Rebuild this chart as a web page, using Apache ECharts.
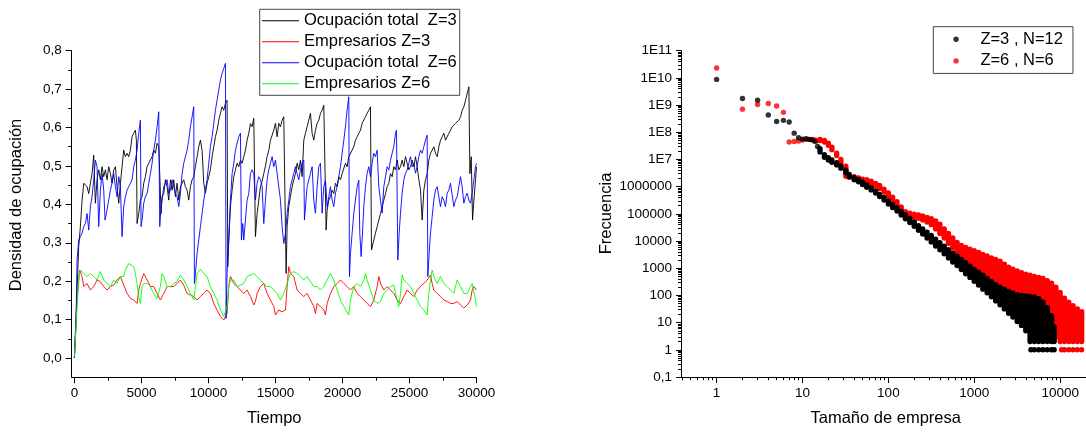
<!DOCTYPE html>
<html><head><meta charset="utf-8">
<script src="https://cdn.jsdelivr.net/npm/echarts@6/dist/echarts.min.js"></script>
<style>html,body{margin:0;padding:0;background:#fff}#c{width:1086px;height:432px}</style>
</head><body><div id="c"></div>
<script>
// ---------------- DATA ----------------
const leftNames = ['Ocupación total  Z=3', 'Empresarios Z=3', 'Ocupación total  Z=6', 'Empresarios Z=6'];
const rightNames = ['Z=3 , N=12', 'Z=6 , N=6'];
const timeTicks = [0, 5000, 10000, 15000, 20000, 25000, 30000];
const timeMinorTicks = [2500, 7500, 12500, 17500, 22500, 27500];
const densityTicks = [0, 0.1, 0.2, 0.3, 0.4, 0.5, 0.6, 0.7, 0.8];
const densityMinorTicks = [0.05, 0.15, 0.25, 0.35, 0.45, 0.55, 0.65, 0.75];
const sizeTicks = [1, 10, 100, 1000, 10000];
const freqTicks = [0.1, 1, 10, 100, 1000, 10000, 100000, 1000000, 1e7, 1e8, 1e9, 1e10, 1e11];

// [tiempo, densidad]
const ocupacionZ3 = [[0,0],[75,0.003],[199,0.177],[323,0.29],[448,0.342],[572,0.41],[697,0.455],[821,0.459],[945,0.446],[1070,0.428],[1194,0.455],[1318,0.48],[1443,0.528],[1567,0.403],[1692,0.464],[1816,0.49],[1940,0.464],[2065,0.498],[2189,0.472],[2314,0.49],[2438,0.464],[2563,0.498],[2687,0.48],[2811,0.455],[2935,0.49],[3060,0.498],[3184,0.446],[3309,0.403],[3433,0.455],[3557,0.498],[3682,0.541],[3806,0.524],[3930,0.533],[4055,0.524],[4179,0.541],[4304,0.576],[4428,0.585],[4552,0.593],[4627,0.567],[4677,0.35],[4801,0.376],[4925,0.411],[5050,0.42],[5174,0.455],[5299,0.472],[5423,0.498],[5548,0.507],[5672,0.507],[5796,0.524],[5920,0.541],[6045,0.533],[6169,0.559],[6294,0.55],[6368,0.48],[6467,0.376],[6542,0.42],[6667,0.428],[6791,0.464],[6916,0.446],[7040,0.411],[7164,0.464],[7289,0.437],[7413,0.464],[7538,0.42],[7662,0.455],[7787,0.411],[7911,0.446],[8035,0.455],[8159,0.464],[8284,0.446],[8408,0.437],[8533,0.411],[8657,0.446],[8781,0.464],[8906,0.472],[9030,0.498],[9154,0.524],[9279,0.55],[9403,0.567],[9527,0.541],[9652,0.455],[9776,0.429],[9900,0.455],[10025,0.472],[10149,0.49],[10274,0.524],[10398,0.55],[10523,0.576],[10647,0.593],[10771,0.619],[10896,0.637],[11020,0.654],[11144,0.645],[11269,0.663],[11393,0.671],[11443,0.238],[11518,0.307],[11642,0.394],[11767,0.437],[11891,0.472],[12015,0.49],[12140,0.507],[12264,0.498],[12388,0.515],[12513,0.507],[12637,0.524],[12762,0.541],[12886,0.567],[13010,0.585],[13135,0.61],[13259,0.602],[13383,0.624],[13458,0.619],[13508,0.316],[13632,0.376],[13756,0.411],[13881,0.446],[14005,0.46],[14130,0.48],[14254,0.5],[14378,0.524],[14503,0.54],[14627,0.567],[14752,0.58],[14876,0.593],[15000,0.611],[15125,0.576],[15249,0.611],[15374,0.602],[15498,0.619],[15622,0.628],[15747,0.632],[15797,0.22],[15871,0.342],[15995,0.394],[16120,0.42],[16244,0.446],[16369,0.464],[16493,0.48],[16617,0.507],[16742,0.49],[16866,0.515],[16991,0.472],[17115,0.567],[17240,0.585],[17364,0.602],[17488,0.619],[17613,0.637],[17737,0.585],[17861,0.567],[17986,0.593],[18110,0.611],[18235,0.619],[18359,0.637],[18483,0.645],[18607,0.658],[18707,0.663],[18782,0.333],[18856,0.385],[18981,0.411],[19105,0.42],[19230,0.437],[19354,0.428],[19478,0.455],[19603,0.446],[19727,0.472],[19851,0.464],[19976,0.48],[20100,0.48],[20225,0.507],[20349,0.498],[20473,0.524],[20598,0.524],[20722,0.541],[20847,0.55],[20971,0.567],[21095,0.576],[21220,0.585],[21344,0.593],[21468,0.611],[21593,0.611],[21717,0.628],[21842,0.637],[21966,0.645],[22090,0.654],[22165,0.281],[22339,0.307],[22463,0.325],[22588,0.342],[22712,0.359],[22837,0.376],[22961,0.394],[23086,0.411],[23210,0.428],[23334,0.446],[23459,0.455],[23583,0.48],[23708,0.472],[23832,0.498],[23956,0.49],[24081,0.515],[24205,0.49],[24330,0.498],[24454,0.515],[24578,0.498],[24703,0.524],[24827,0.507],[24952,0.49],[25076,0.498],[25201,0.515],[25325,0.498],[25449,0.524],[25574,0.498],[25698,0.464],[25823,0.437],[25947,0.359],[26072,0.437],[26196,0.464],[26321,0.48],[26445,0.515],[26570,0.533],[26694,0.541],[26818,0.55],[26943,0.533],[27067,0.524],[27192,0.55],[27316,0.567],[27440,0.576],[27565,0.585],[27689,0.567],[27814,0.567],[27938,0.585],[28063,0.593],[28187,0.602],[28312,0.602],[28436,0.611],[28560,0.611],[28685,0.619],[28809,0.628],[28934,0.645],[29058,0.654],[29183,0.671],[29307,0.689],[29432,0.706],[29506,0.48],[29606,0.524],[29706,0.359],[29806,0.411],[29930,0.464],[30000,0.498]];

const empresariosZ3 = [[0,0],[199,0.15],[398,0.229],[572,0.212],[697,0.186],[945,0.194],[1194,0.177],[1443,0.186],[1692,0.203],[1940,0.199],[2189,0.186],[2438,0.177],[2687,0.186],[2935,0.19],[3184,0.203],[3433,0.212],[3682,0.19],[3930,0.168],[4179,0.155],[4428,0.151],[4677,0.142],[4801,0.177],[4925,0.194],[5174,0.22],[5423,0.203],[5672,0.186],[5920,0.186],[6169,0.168],[6418,0.151],[6667,0.168],[6916,0.186],[7164,0.186],[7413,0.186],[7662,0.194],[7911,0.203],[8159,0.19],[8408,0.168],[8657,0.164],[8906,0.16],[9154,0.151],[9403,0.16],[9652,0.168],[9900,0.177],[10149,0.168],[10398,0.142],[10647,0.125],[10896,0.108],[11144,0.099],[11269,0.095],[11393,0.116],[11518,0.186],[11642,0.212],[11891,0.194],[12140,0.186],[12388,0.177],[12637,0.168],[12886,0.177],[13135,0.16],[13383,0.138],[13508,0.147],[13632,0.168],[13881,0.186],[14130,0.194],[14378,0.168],[14627,0.151],[14876,0.134],[15000,0.112],[15249,0.125],[15498,0.12],[15747,0.125],[15871,0.186],[15995,0.238],[16120,0.22],[16368,0.212],[16617,0.177],[16866,0.168],[17115,0.16],[17363,0.168],[17612,0.151],[17861,0.134],[17985,0.116],[18110,0.142],[18359,0.134],[18607,0.125],[18732,0.112],[18856,0.142],[19105,0.168],[19353,0.186],[19602,0.194],[19851,0.203],[20100,0.194],[20348,0.186],[20597,0.177],[20846,0.186],[21095,0.168],[21344,0.16],[21592,0.151],[21841,0.142],[22090,0.134],[22214,0.13],[22338,0.151],[22587,0.186],[22712,0.212],[22836,0.194],[23085,0.177],[23334,0.186],[23583,0.177],[23831,0.168],[24080,0.151],[24329,0.142],[24578,0.16],[24826,0.177],[25075,0.168],[25324,0.16],[25572,0.177],[25821,0.186],[26070,0.194],[26318,0.203],[26567,0.216],[26692,0.194],[26816,0.177],[27065,0.168],[27314,0.16],[27562,0.151],[27811,0.147],[28060,0.142],[28309,0.142],[28558,0.147],[28806,0.138],[29055,0.13],[29304,0.138],[29553,0.151],[29677,0.177],[29802,0.186],[29926,0.19],[30000,0.177]];

const ocupacionZ6 = [[0,0],[124,0.09],[199,0.255],[323,0.307],[448,0.316],[572,0.325],[697,0.342],[821,0.35],[945,0.376],[1070,0.333],[1194,0.394],[1318,0.42],[1443,0.464],[1567,0.515],[1692,0.498],[1816,0.342],[1940,0.437],[2065,0.48],[2189,0.437],[2289,0.359],[2388,0.376],[2563,0.411],[2687,0.437],[2811,0.455],[2935,0.48],[3060,0.446],[3184,0.42],[3309,0.472],[3433,0.446],[3557,0.316],[3682,0.394],[3806,0.42],[3930,0.437],[4055,0.446],[4179,0.455],[4304,0.464],[4428,0.498],[4552,0.515],[4677,0.541],[4801,0.585],[4925,0.619],[4975,0.342],[5050,0.359],[5174,0.403],[5299,0.42],[5423,0.428],[5548,0.455],[5672,0.48],[5796,0.507],[5920,0.541],[6045,0.567],[6169,0.602],[6294,0.641],[6368,0.342],[6467,0.394],[6542,0.411],[6667,0.446],[6791,0.455],[6916,0.464],[7040,0.428],[7164,0.437],[7289,0.464],[7413,0.446],[7538,0.428],[7662,0.42],[7787,0.394],[7911,0.428],[8035,0.48],[8159,0.507],[8284,0.524],[8408,0.541],[8533,0.567],[8657,0.602],[8781,0.628],[8906,0.654],[8955,0.194],[9030,0.22],[9154,0.272],[9279,0.307],[9403,0.342],[9527,0.376],[9652,0.411],[9776,0.437],[9900,0.464],[10025,0.507],[10149,0.55],[10274,0.576],[10398,0.61],[10523,0.645],[10647,0.671],[10771,0.697],[10896,0.724],[11020,0.741],[11144,0.754],[11269,0.767],[11319,0.103],[11393,0.22],[11518,0.307],[11642,0.411],[11767,0.48],[11891,0.507],[12015,0.541],[12140,0.559],[12264,0.576],[12388,0.585],[12463,0.307],[12563,0.35],[12637,0.307],[12762,0.359],[12886,0.411],[13010,0.428],[13135,0.48],[13259,0.49],[13383,0.48],[13508,0.411],[13632,0.455],[13756,0.472],[13881,0.464],[14005,0.446],[14130,0.35],[14254,0.411],[14378,0.464],[14503,0.49],[14627,0.507],[14752,0.524],[14876,0.498],[15000,0.515],[15125,0.48],[15249,0.446],[15374,0.411],[15498,0.342],[15622,0.298],[15747,0.325],[15871,0.376],[15996,0.411],[16120,0.446],[16244,0.464],[16369,0.48],[16493,0.498],[16617,0.48],[16742,0.464],[16866,0.49],[16991,0.507],[17115,0.515],[17164,0.359],[17363,0.446],[17612,0.481],[17737,0.498],[17861,0.411],[17985,0.377],[18110,0.446],[18234,0.498],[18359,0.507],[18483,0.377],[18607,0.446],[18732,0.463],[18856,0.394],[18981,0.42],[19105,0.446],[19229,0.411],[19353,0.394],[19478,0.429],[19602,0.446],[19727,0.472],[19851,0.498],[19975,0.533],[20100,0.567],[20224,0.602],[20348,0.646],[20473,0.68],[20522,0.212],[20597,0.272],[20722,0.325],[20846,0.377],[20970,0.411],[21095,0.446],[21219,0.463],[21294,0.325],[21393,0.264],[21493,0.325],[21592,0.394],[21717,0.446],[21841,0.481],[21966,0.498],[22090,0.472],[22214,0.507],[22338,0.533],[22463,0.524],[22587,0.541],[22712,0.446],[22836,0.411],[22961,0.377],[23085,0.446],[23210,0.472],[23334,0.498],[23458,0.489],[23583,0.515],[23707,0.533],[23831,0.55],[23956,0.585],[24030,0.593],[24130,0.255],[24230,0.325],[24329,0.377],[24453,0.429],[24578,0.463],[24702,0.481],[24826,0.489],[24951,0.507],[25075,0.524],[25200,0.498],[25324,0.507],[25448,0.481],[25572,0.498],[25697,0.524],[25821,0.541],[25946,0.533],[26070,0.55],[26194,0.567],[26318,0.58],[26368,0.212],[26468,0.272],[26567,0.325],[26692,0.368],[26816,0.411],[26941,0.437],[27065,0.446],[27189,0.42],[27314,0.394],[27438,0.42],[27562,0.411],[27687,0.394],[27811,0.429],[27936,0.437],[28060,0.455],[28185,0.459],[28309,0.394],[28433,0.411],[28558,0.42],[28682,0.446],[28806,0.472],[28931,0.446],[29055,0.403],[29180,0.42],[29304,0.429],[29428,0.411],[29553,0.403],[29677,0.429],[29802,0.463],[29926,0.498],[30000,0.507]];

const empresariosZ6 = [[0,0.003],[323,0.212],[448,0.229],[697,0.22],[945,0.212],[1194,0.22],[1443,0.212],[1692,0.203],[1940,0.225],[2189,0.203],[2438,0.194],[2687,0.186],[2935,0.203],[3184,0.194],[3433,0.212],[3682,0.212],[3806,0.229],[4055,0.246],[4179,0.251],[4428,0.238],[4552,0.22],[4677,0.194],[4801,0.16],[4925,0.142],[5050,0.186],[5174,0.194],[5423,0.194],[5672,0.186],[5920,0.168],[6169,0.155],[6418,0.186],[6542,0.22],[6667,0.212],[6916,0.186],[7164,0.186],[7413,0.194],[7662,0.199],[7911,0.216],[8159,0.203],[8408,0.186],[8657,0.168],[8906,0.151],[9154,0.22],[9403,0.231],[9652,0.22],[9900,0.212],[10149,0.186],[10398,0.168],[10647,0.151],[10896,0.125],[11144,0.108],[11269,0.103],[11393,0.134],[11518,0.186],[11642,0.203],[11891,0.203],[12140,0.186],[12388,0.19],[12637,0.194],[12886,0.212],[13135,0.216],[13383,0.22],[13632,0.212],[13881,0.203],[14130,0.194],[14378,0.186],[14627,0.186],[14876,0.177],[15125,0.168],[15373,0.151],[15622,0.168],[15871,0.194],[16120,0.22],[16368,0.225],[16617,0.22],[16866,0.212],[17115,0.203],[17363,0.212],[17612,0.199],[17861,0.186],[18110,0.186],[18359,0.177],[18607,0.186],[18856,0.203],[19105,0.22],[19353,0.203],[19602,0.177],[19851,0.151],[20100,0.134],[20473,0.112],[20597,0.151],[20846,0.186],[21095,0.194],[21344,0.186],[21592,0.203],[21717,0.22],[21841,0.203],[22090,0.177],[22338,0.151],[22587,0.142],[22836,0.147],[23085,0.168],[23334,0.177],[23583,0.186],[23831,0.19],[24080,0.151],[24205,0.134],[24329,0.168],[24453,0.216],[24578,0.203],[24826,0.194],[25075,0.186],[25324,0.168],[25572,0.151],[25821,0.134],[26070,0.125],[26318,0.112],[26443,0.168],[26567,0.203],[26692,0.229],[26816,0.212],[27065,0.194],[27314,0.212],[27562,0.194],[27811,0.186],[28060,0.177],[28309,0.168],[28558,0.203],[28682,0.207],[28806,0.186],[29055,0.168],[29304,0.168],[29553,0.186],[29677,0.194],[29802,0.194],[29926,0.151],[30000,0.134]];

// Right panel: isolated small sizes [tamaño, frecuencia]
const puntosZ3 = [[1,8.8e9],[2,1.75e9],[3,1.5e9],[4,4.3e8],[5,2.5e8],[6,2.75e8],[7,2.4e8],[8,9.3e7],[9,6.3e7],[10,5.6e7],[11,5.8e7],[12,5.5e7],[13,5.2e7],[14,4.6e7],[15,3.0e7]];
const puntosZ6 = [[1,2.3e10],[2,7.1e8],[3,1.05e9],[4,1.15e9],[5,9.3e8],[6,5.4e8],[7,4.4e7],[8,4.6e7],[9,4.8e7],[10,5.2e7],[11,5.5e7],[12,5.5e7],[13,5.4e7],[14,5.2e7],[15,5.0e7]];

// Dense part: [tamaño, frecuencia mínima, frecuencia máxima] of the point cloud
const nubeZ3 = [[16,1.9e7,2.5e7],[18,1.2e7,1.5e7],[20,9.5e6,1.15e7],[22,7.9e6,9.5e6],[25,6.3e6,7.6e6],[28,4.8e6,5.8e6],[32,3.3e6,4.0e6],[35,2.3e6,2.8e6],[40,1.8e6,2.2e6],[45,1.5e6,1.8e6],[50,1.2e6,1.45e6],[56,9.5e5,1.15e6],[63,7.6e5,9.1e5],[71,5.8e5,6.9e5],[79,4.3e5,5.2e5],[89,3.2e5,4.0e5],[100,2.3e5,3.0e5],[112,1.7e5,2.2e5],[126,1.26e5,1.66e5],[141,9.1e4,1.23e5],[158,6.6e4,9.1e4],[178,4.8e4,6.8e4],[200,3.5e4,5.0e4],[224,2.5e4,3.7e4],[251,1.8e4,2.8e4],[282,1.3e4,2.1e4],[316,9300,1.6e4],[355,6600,1.17e4],[398,4800,8700],[447,3400,6500],[501,2400,4800],[562,1700,3600],[631,1260,2750],[708,890,2100],[794,630,1600],[891,460,1200],[1000,330,910],[1122,240,710],[1259,170,550],[1413,126,420],[1585,89,320],[1778,63,250],[1995,45,200],[2239,32,170],[2512,22,140],[2818,16,120],[3162,11,107],[3548,7.9,100],[3981,5,95],[4467,2,91],[5012,2,87],[5623,2,76],[6310,2,58],[7079,2,35],[7943,2,18],[8511,2,7],[4571,1,1],[5012,1,1],[5623,1,1],[6310,1,1],[7079,1,1],[7943,1,1],[8511,1,1]];
const nubeZ6 = [[16,5.0e7,5.5e7],[18,4.4e7,5.0e7],[20,3.3e7,4.0e7],[22,2.3e7,2.8e7],[25,1.4e7,1.7e7],[28,7.6e6,1.0e7],[32,2.4e6,5.6e6],[35,2.2e6,2.5e6],[40,2.0e6,2.3e6],[45,1.9e6,2.1e6],[50,1.7e6,1.9e6],[56,1.5e6,1.8e6],[63,1.3e6,1.6e6],[71,1.1e6,1.3e6],[79,8.5e5,1.1e6],[89,6.3e5,8.1e5],[100,4.5e5,5.9e5],[112,3.0e5,4.1e5],[126,2.0e5,2.8e5],[141,1.3e5,1.8e5],[158,9.5e4,1.2e5],[178,8.5e4,1.05e5],[200,7.6e4,9.8e4],[224,6.9e4,9.1e4],[251,6.0e4,8.3e4],[282,5.0e4,7.4e4],[316,4.0e4,6.6e4],[355,2.8e4,5.5e4],[398,1.9e4,4.2e4],[447,1.3e4,2.8e4],[501,8300,1.9e4],[562,5600,1.3e4],[631,3800,8900],[708,2600,6900],[794,1900,5800],[891,1400,5000],[1000,1000,4400],[1122,790,3800],[1259,600,3200],[1413,460,2800],[1585,350,2400],[1778,280,2100],[1995,220,1800],[2239,170,1400],[2512,140,1100],[2818,110,930],[3162,87,790],[3548,69,690],[3981,55,600],[4467,42,550],[5012,32,500],[5623,24,460],[6310,16,420],[7079,8.9,350],[7943,5,280],[8913,3,200],[10000,2,130],[11220,2,79],[12589,2,56],[14125,2,42],[15849,2,32],[17783,2,25],[10400,1,1],[11220,1,1],[12589,1,1],[14125,1,1],[15849,1,1],[17783,1,1]];

// ---------------- CHART ----------------
const FONT = '"Liberation Sans", Arial, Helvetica, sans-serif';
const TXT = {color: '#000', fontFamily: FONT, fontSize: 13.5};
const COL = {black: '#000000', red: '#ff0000', blue: '#0000ff', green: '#00ff00'};
const DOT = 5.4;
const LINE_ICON = 'path://M0,0H37V1H0Z';

const logMinor = [];
for (let e = -1; e <= 10; e++) for (let m = 2; m <= 9; m++) logMinor.push(m * Math.pow(10, e));

function densityFmt(v) { return v.toFixed(1).replace('.', ','); }
function freqFmt(v) {
  if (v < 1) return '0,1';
  if (v >= 1e7) return '1E' + Math.round(Math.log10(v));
  return String(Math.round(v));
}
function bandItem(color) {
  return function (params, api) {
    const x = api.value(0);
    const top = api.coord([x, api.value(2)]);
    const bot = api.coord([x, api.value(1)]);
    const r = DOT / 2;
    return {type: 'rect', shape: {x: top[0] - r, y: top[1] - r, width: 2 * r, height: bot[1] - top[1] + 2 * r, r: r},
            style: {fill: color}};
  };
}

const chart = echarts.init(document.getElementById('c'), null, {renderer: 'canvas'});
const lineAxisBase = {axisLine: {onZero: false, lineStyle: {color: '#000', width: 1}}, splitLine: {show: false}};

chart.setOption({
  animation: false,
  backgroundColor: '#fff',
  grid: [
    {left: 71.7, top: 50.7, width: 404.8, height: 326.5},
    {left: 681, top: 50.7, width: 408, height: 326.3}
  ],
  xAxis: [
    Object.assign({gridIndex: 0, type: 'value', min: -200, max: 30000, position: 'bottom',
      axisTick: {customValues: timeTicks, length: 6, lineStyle: {color: '#000'}},
      axisLabel: Object.assign({customValues: timeTicks, margin: 9, formatter: v => String(Math.round(v))}, TXT)}, lineAxisBase),
    {gridIndex: 0, type: 'value', min: -200, max: 30000, position: 'bottom', axisLine: {show: false, onZero: false},
      axisTick: {customValues: timeMinorTicks, length: 3.5, lineStyle: {color: '#000'}}, axisLabel: {show: false}, splitLine: {show: false}},
    Object.assign({gridIndex: 1, type: 'log', logBase: 10, min: 0.385, max: 20000, position: 'bottom',
      axisTick: {customValues: sizeTicks, length: 6, lineStyle: {color: '#000'}},
      axisLabel: Object.assign({customValues: sizeTicks, margin: 9, formatter: v => String(Math.round(v))}, TXT)}, lineAxisBase),
    {gridIndex: 1, type: 'log', logBase: 10, min: 0.385, max: 20000, position: 'bottom', axisLine: {show: false, onZero: false},
      axisTick: {customValues: logMinor.filter(v => v > 0.385 && v < 20000), length: 3.2, lineStyle: {color: '#000'}},
      axisLabel: {show: false}, splitLine: {show: false}}
  ],
  yAxis: [
    Object.assign({gridIndex: 0, type: 'value', min: -0.05, max: 0.8, position: 'left',
      axisTick: {customValues: densityTicks, length: 6, lineStyle: {color: '#000'}},
      axisLabel: Object.assign({customValues: densityTicks, margin: 10, formatter: densityFmt}, TXT)}, lineAxisBase),
    {gridIndex: 0, type: 'value', min: -0.05, max: 0.8, position: 'left', axisLine: {show: false, onZero: false},
      axisTick: {customValues: densityMinorTicks, length: 3.5, lineStyle: {color: '#000'}}, axisLabel: {show: false}, splitLine: {show: false}},
    Object.assign({gridIndex: 1, type: 'log', logBase: 10, min: 0.1, max: 1e11, position: 'left',
      axisTick: {customValues: freqTicks, length: 5, lineStyle: {color: '#000'}},
      axisLabel: Object.assign({customValues: freqTicks, margin: 9, formatter: freqFmt}, TXT)}, lineAxisBase),
    {gridIndex: 1, type: 'log', logBase: 10, min: 0.1, max: 1e11, position: 'left', axisLine: {show: false, onZero: false},
      axisTick: {customValues: logMinor, length: 3, lineStyle: {color: '#000'}}, axisLabel: {show: false}, splitLine: {show: false}}
  ],
  legend: [
    {data: leftNames.map(n => ({name: n, icon: LINE_ICON})), orient: 'vertical', left: 259.7, top: 9.3, itemWidth: 37, itemHeight: 14, itemGap: 4,
      padding: [3, 3, 3, 2.3], borderColor: '#444', borderWidth: 1, selectedMode: false,
      textStyle: {color: '#000', fontFamily: FONT, fontSize: 16.5, lineHeight: 17}},
    {data: [{name: rightNames[0], icon: 'circle'}, {name: rightNames[1], icon: 'circle'}], orient: 'vertical', left: 933.3, top: 26.7,
      itemWidth: 38.6, itemHeight: DOT, itemGap: 4.7, padding: [4, 10, 4, 20.1], borderColor: '#444', borderWidth: 1, selectedMode: false,
      textStyle: {color: '#000', fontFamily: FONT, fontSize: 16.5, lineHeight: 17}}
  ],
  graphic: [
    {type: 'text', x: 16.5, y: 205, rotation: Math.PI / 2, style: {text: 'Densidad de ocupación', fontSize: 16.5, fontFamily: FONT, fill: '#000', align: 'center', verticalAlign: 'middle'}},
    {type: 'text', x: 274.3, y: 418, style: {text: 'Tiempo', fontSize: 16.5, fontFamily: FONT, fill: '#000', align: 'center', verticalAlign: 'middle'}},
    {type: 'text', x: 606, y: 213.5, rotation: Math.PI / 2, style: {text: 'Frecuencia', fontSize: 16.5, fontFamily: FONT, fill: '#000', align: 'center', verticalAlign: 'middle'}},
    {type: 'text', x: 885.7, y: 418, style: {text: 'Tamaño de empresa', fontSize: 16.5, fontFamily: FONT, fill: '#000', align: 'center', verticalAlign: 'middle'}}
  ],
  series: [
    {name: leftNames[0], type: 'line', xAxisIndex: 0, yAxisIndex: 0, data: ocupacionZ3, symbol: 'none', color: COL.black, lineStyle: {width: 0.9, color: COL.black}},
    {name: leftNames[1], type: 'line', xAxisIndex: 0, yAxisIndex: 0, data: empresariosZ3, symbol: 'none', color: COL.red, lineStyle: {width: 0.9, color: COL.red}},
    {name: leftNames[2], type: 'line', xAxisIndex: 0, yAxisIndex: 0, data: ocupacionZ6, symbol: 'none', color: COL.blue, lineStyle: {width: 0.9, color: COL.blue}},
    {name: leftNames[3], type: 'line', xAxisIndex: 0, yAxisIndex: 0, data: empresariosZ6, symbol: 'none', color: COL.green, lineStyle: {width: 0.9, color: COL.green}},
    {name: rightNames[1], type: 'scatter', xAxisIndex: 2, yAxisIndex: 2, data: puntosZ6, symbol: 'circle', symbolSize: DOT, itemStyle: {color: COL.red}},
    {name: rightNames[1], type: 'custom', xAxisIndex: 2, yAxisIndex: 2, data: nubeZ6, dimensions: ['x', 'lo', 'hi'], encode: {x: 0, y: [1, 2]}, renderItem: bandItem(COL.red), itemStyle: {color: COL.red}},
    {name: rightNames[0], type: 'scatter', xAxisIndex: 2, yAxisIndex: 2, data: puntosZ3, symbol: 'circle', symbolSize: DOT, itemStyle: {color: COL.black}},
    {name: rightNames[0], type: 'custom', xAxisIndex: 2, yAxisIndex: 2, data: nubeZ3, dimensions: ['x', 'lo', 'hi'], encode: {x: 0, y: [1, 2]}, renderItem: bandItem(COL.black), itemStyle: {color: COL.black}}
  ]
});
</script></body></html>
